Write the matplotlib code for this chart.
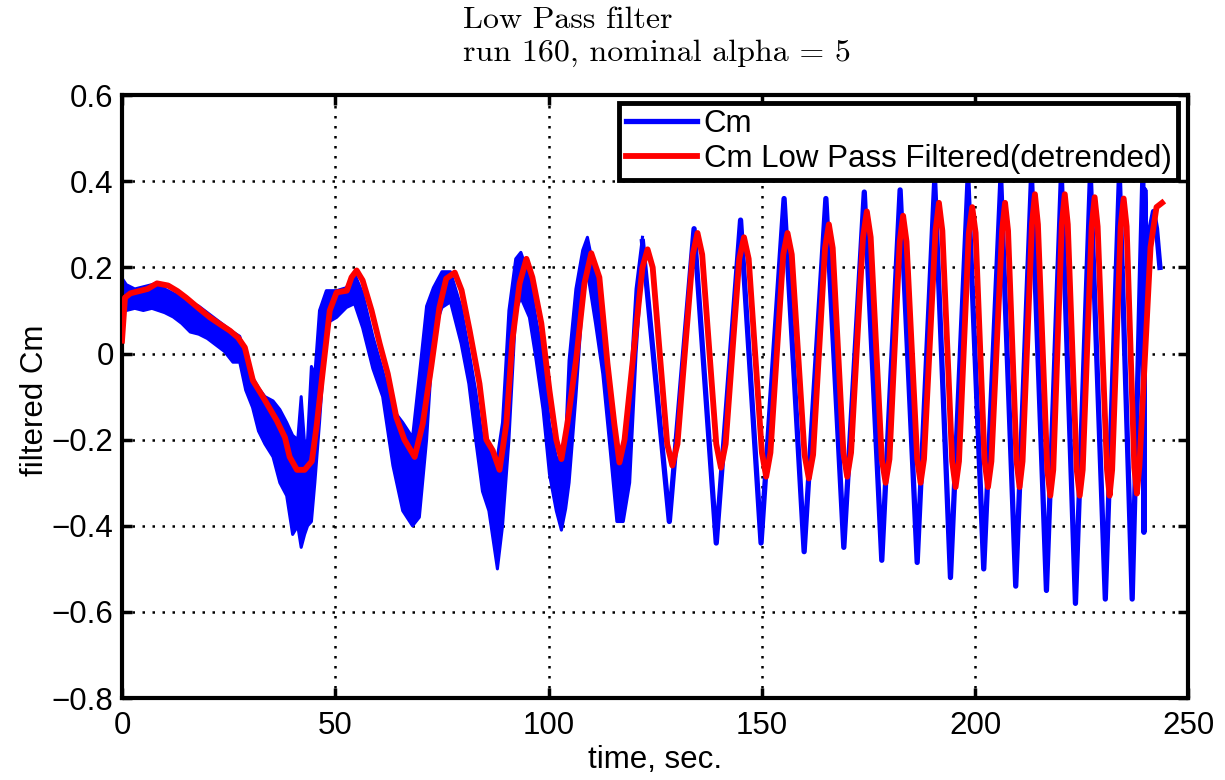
import numpy as np
import matplotlib.pyplot as plt
from matplotlib.lines import Line2D

plt.rcParams['font.family'] = ['Liberation Sans', 'DejaVu Sans']

# raw Cm, noisy first part: lower / upper edge of the trace
t_noisy = [0.0, 1.0, 3.0, 5.0, 7.0, 8.5, 10.0, 12.0, 14.0, 16.0, 18.0, 20.0, 22.0,
           24.0, 26.0, 27.6, 29.0, 30.6, 32.0, 33.5, 35.4, 37.0, 38.6, 40.0, 41.2,
           42.0, 42.8, 43.5, 44.4, 45.2, 46.3, 47.9, 50.3, 52.6, 54.5, 56.4, 58.8,
           61.1, 63.5, 65.8, 68.1, 69.7, 71.4, 73.0, 75.0, 77.0, 79.5, 81.3, 82.9,
           84.5, 86.0, 88.0, 89.2, 90.7, 92.3, 93.5, 95.5, 97.0, 98.7, 100.2, 101.8,
           103.0, 104.0, 104.8, 106.4, 108.0, 109.1, 111.0, 112.7, 114.3, 116.0,
           117.5, 119.0, 120.5, 122.0]
cm_lo = [0.10, 0.10, 0.105, 0.10, 0.105, 0.10, 0.095, 0.085, 0.07, 0.05, 0.045, 0.035, 0.02,
         0.005, -0.02, -0.02, -0.085, -0.125, -0.18, -0.21, -0.24, -0.30, -0.33, -0.42, -0.40,
         -0.45, -0.42, -0.40, -0.39, -0.30, -0.16, 0.07, 0.084, 0.107, 0.116, 0.06, -0.035,
         -0.10, -0.26, -0.365, -0.40, -0.38, -0.20, 0.05, 0.107, 0.12, 0.023, -0.07, -0.20,
         -0.32, -0.365, -0.50, -0.40, -0.20, 0.10, 0.13, 0.084, -0.01, -0.13, -0.28, -0.365,
         -0.41, -0.36, -0.30, -0.10, 0.13, 0.19, 0.07, -0.047, -0.21, -0.39,
         -0.39, -0.30, 0.0, 0.22]
cm_hi = [0.175, 0.16, 0.15, 0.155, 0.16, 0.165, 0.15, 0.14, 0.13, 0.12, 0.11, 0.095, 0.08,
         0.065, 0.05, 0.04, -0.01, -0.055, -0.08, -0.10, -0.11, -0.13, -0.16, -0.19, -0.20,
         -0.10, -0.21, -0.20, -0.03, -0.05, 0.10, 0.146, 0.146, 0.153, 0.186, 0.14, 0.04,
         -0.04, -0.13, -0.16, -0.195, -0.05, 0.11, 0.153, 0.19, 0.19, 0.107, 0.007, -0.086,
         -0.20, -0.225, -0.24, -0.16, 0.10, 0.22, 0.235, 0.177, 0.084, -0.01, -0.163, -0.24,
         -0.25, -0.20, -0.016, 0.15, 0.24, 0.27, 0.177, 0.07, -0.07, -0.24,
         -0.26, -0.10, 0.15, 0.27]

# raw Cm, cleaner second part
t_cm = [122.0, 128.3, 134.1, 139.3, 145.0, 149.8, 155.2, 159.9, 165.0, 169.2, 174.0,
        178.1, 182.4, 186.4, 190.5, 194.2, 198.3, 202.0, 206.0, 209.5, 213.2, 216.7,
        220.2, 223.5, 227.0, 230.5, 233.8, 236.8, 239.3, 239.55, 239.75, 240.2, 241.0,
        241.8, 242.5, 243.3]
cm = [0.26, -0.39, 0.29, -0.44, 0.31, -0.44, 0.36, -0.46, 0.36, -0.45, 0.375,
      -0.48, 0.38, -0.485, 0.40, -0.52, 0.40, -0.50, 0.40, -0.54, 0.41, -0.55,
      0.41, -0.58, 0.41, -0.57, 0.41, -0.57, 0.41, -0.415, 0.38, 0.12, 0.29,
      0.33, 0.29, 0.20]

# low pass filtered Cm
t_filt = [0.0, 0.7, 2.0, 4.0, 6.0, 8.2, 10.8, 13.0, 15.0, 18.0, 20.6, 23.0, 25.3, 27.2,
          28.8, 30.7, 33.0, 36.3, 38.2, 39.3, 41.0, 42.8, 44.5, 45.6, 47.0, 48.7, 50.3,
          52.7, 53.8, 55.0, 56.4, 58.5, 60.4, 62.3, 64.3, 66.2, 68.6, 70.5, 72.5, 74.4,
          76.0, 78.0, 79.6, 81.5, 83.8, 85.4, 86.9, 88.5, 90.1, 91.5, 93.2, 94.8, 96.2,
          98.3, 100.2, 101.8, 103.0, 104.4, 106.5, 108.4, 110.0, 111.9, 113.8, 115.4,
          116.6, 117.8,
          122.0, 123.2, 124.4, 127.8, 129.0, 130.2, 133.8, 134.9, 136.0, 139.3, 140.4, 141.5,
          144.7, 145.8, 146.9, 150.0, 151.0, 152.0, 155.0, 156.0, 157.0, 160.0, 161.0, 162.0,
          164.8, 165.7, 166.6, 169.1, 170.0, 170.9, 173.7, 174.6, 175.5, 178.1, 179.0, 179.9,
          182.3, 183.1, 183.9, 186.4, 187.2, 188.0, 190.7, 191.5, 192.3, 194.6, 195.4, 196.2,
          198.5, 199.3, 200.1, 202.2, 203.0, 203.8, 206.3, 207.0, 207.7, 209.7, 210.4, 211.1,
          213.3, 214.0, 214.7, 216.9, 217.6, 218.3, 220.3, 221.0, 221.7, 223.8, 224.5, 225.2,
          227.3, 228.0, 228.7, 230.9, 231.5, 232.1, 234.1, 234.8, 235.5, 237.3, 237.9, 238.5,
          239.9, 241.1, 242.5, 243.8]
cm_filt = [0.03, 0.13, 0.14, 0.145, 0.15, 0.163, 0.158, 0.145, 0.13, 0.105, 0.084, 0.068,
           0.053, 0.037, 0.014, -0.063, -0.10, -0.156, -0.195, -0.24, -0.27, -0.27, -0.25,
           -0.17, -0.047, 0.10, 0.142, 0.146, 0.177, 0.193, 0.17, 0.10, 0.023, -0.047,
           -0.148, -0.20, -0.24, -0.163, -0.03, 0.107, 0.174, 0.188, 0.147, 0.053, -0.07,
           -0.20, -0.225, -0.27, -0.163, 0.03, 0.163, 0.22, 0.177, 0.07, -0.086, -0.20,
           -0.245, -0.163, -0.01, 0.163, 0.233, 0.177, -0.023, -0.163, -0.253, -0.20,
           0.20, 0.242, 0.20, -0.21, -0.26, -0.21, 0.23, 0.28, 0.23, -0.21, -0.265, -0.21,
           0.22, 0.27, 0.22, -0.23, -0.286, -0.23, 0.23, 0.28, 0.23, -0.235, -0.29, -0.235,
           0.245, 0.30, 0.245, -0.23, -0.286, -0.23, 0.27, 0.33, 0.27, -0.245, -0.30, -0.245,
           0.26, 0.32, 0.26, -0.245, -0.30, -0.245, 0.285, 0.35, 0.285, -0.25, -0.31, -0.25,
           0.28, 0.34, 0.28, -0.25, -0.31, -0.25, 0.285, 0.35, 0.285, -0.25, -0.31, -0.25,
           0.30, 0.37, 0.30, -0.27, -0.33, -0.27, 0.30, 0.37, 0.30, -0.27, -0.33, -0.27,
           0.295, 0.363, 0.295, -0.27, -0.33, -0.27, 0.295, 0.36, 0.295, -0.265, -0.325, -0.26,
           0.014, 0.247, 0.34, 0.35]

fig = plt.figure(figsize=(12.25, 7.8), dpi=100)
ax = fig.add_axes([0.0996, 0.105, 0.8706, 0.773])

blue = (0, 0, 1)
red = (1, 0, 0)
ax.fill_between(t_noisy, cm_lo, cm_hi, color=blue, lw=0, zorder=2)
ax.plot(t_noisy, cm_lo, color=blue, lw=2.2, zorder=2)
ax.plot(t_noisy, cm_hi, color=blue, lw=2.2, zorder=2)
ax.plot(t_cm, cm, color=blue, lw=3.8, zorder=2)
ax.plot(t_filt, cm_filt, color=red, lw=4.2, zorder=3, solid_joinstyle='round')

ax.set_xlim(0, 250)
ax.set_ylim(-0.8, 0.6)
ax.set_xticks(np.arange(0, 251, 50))
ax.set_yticks(np.arange(-0.8, 0.61, 0.2))
ax.yaxis.set_major_formatter(plt.FuncFormatter(
    lambda v, p: '0' if abs(v) < 1e-9 else ('%.1f' % v).replace('-', '\u2212')))

ax.grid(True, color='k', linestyle=(0, (1, 3)), linewidth=1.8)
ax.set_axisbelow(True)
for s in ax.spines.values():
    s.set_linewidth(3)
ax.tick_params(direction='in', length=7, width=2.5, top=True, right=True,
               labelsize=22.5, colors='k')
ax.tick_params(axis='x', pad=9)
ax.tick_params(axis='y', pad=6)

handles = [Line2D([], [], color=blue, lw=3.8), Line2D([], [], color=red, lw=4.2)]
leg = ax.legend(handles, ['Cm', 'Cm Low Pass Filtered(detrended)'], loc='upper right',
                bbox_to_anchor=(0.99, 0.987), borderaxespad=0, fontsize=22.5,
                fancybox=False, framealpha=1, edgecolor='k', borderpad=0.2,
                labelspacing=0.15, handlelength=2.3, handletextpad=0.2)
leg.get_frame().set_linewidth(3.5)
leg.set_zorder(10)

fig.text(35 / 1225, 1 - 400 / 780, 'filtered Cm', rotation=90, fontsize=22.5,
         ha='center', va='center')
fig.text(655 / 1225, 1 - 760 / 780, 'time, sec.', fontsize=22.5, ha='center', va='center')
fig.text(657 / 1225, 1 - 37 / 780, 'Low Pass filter\nrun 160, nominal alpha = 5',
         family='cmr10', fontsize=23, ha='center', va='center', multialignment='left',
         linespacing=1.25)

fig.savefig('out.png', dpi=100, facecolor='white')
